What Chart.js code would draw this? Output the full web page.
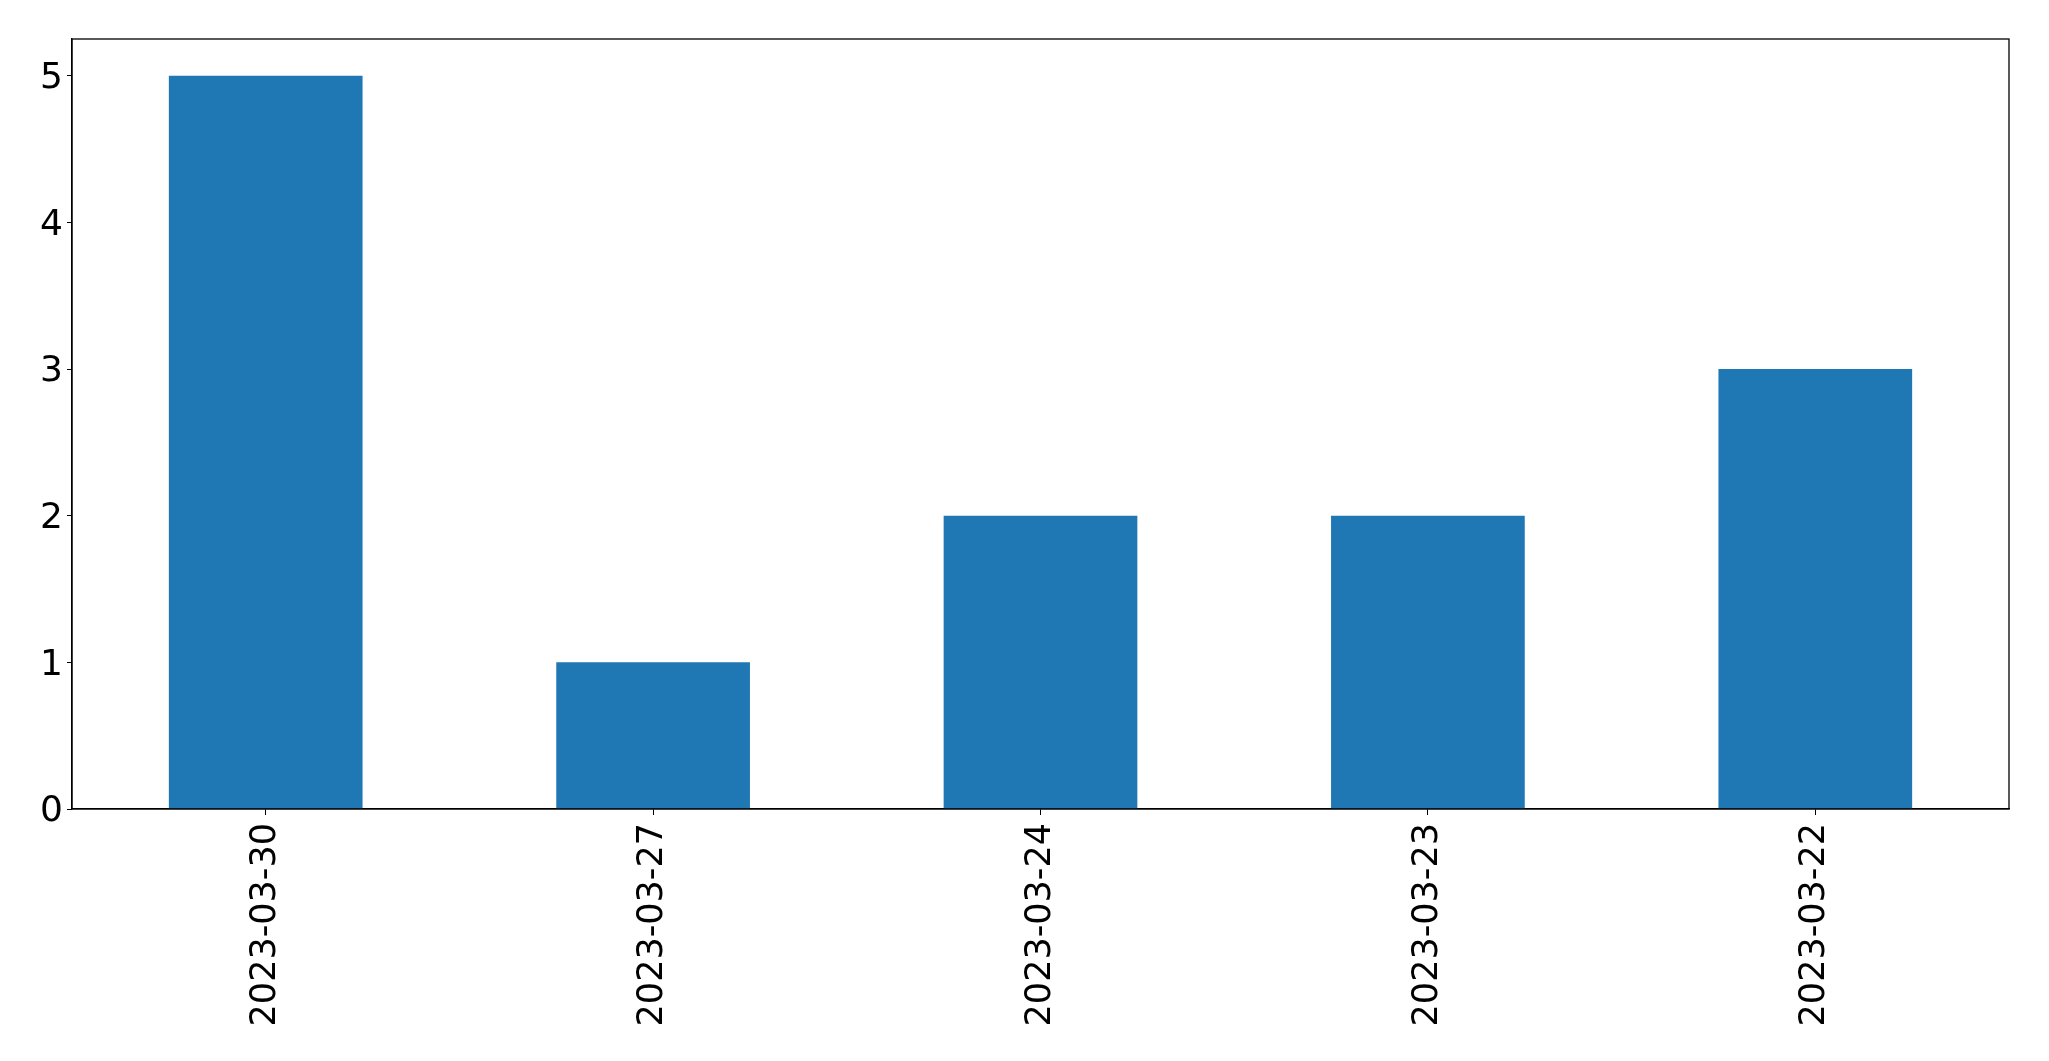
<!DOCTYPE html>
<html>
<head>
<meta charset="utf-8">
<script src="https://cdn.jsdelivr.net/npm/chart.js@4/dist/chart.umd.min.js"></script>
<style>
html,body{margin:0;padding:0;background:#fff;}
#wrap{width:2049px;height:1061px;position:relative;}
</style>
</head>
<body>
<div id="wrap"><canvas id="c" width="2049" height="1061"></canvas></div>
<script>
const categories = ["2023-03-30", "2023-03-27", "2023-03-24", "2023-03-23", "2023-03-22"];
const values = [5, 1, 2, 2, 3];
const yTicks = [0, 1, 2, 3, 4, 5];

const frame = {
  id: 'frame',
  afterDatasetsDraw(chart) {
    const a = chart.chartArea, ctx = chart.ctx;
    ctx.save();
    ctx.strokeStyle = '#000';
    ctx.lineWidth = 1.3;
    ctx.strokeRect(a.left, a.top, a.right - a.left, a.bottom - a.top);
    ctx.restore();
  }
};

new Chart(document.getElementById('c'), {
  type: 'bar',
  data: {
    labels: categories,
    datasets: [{ data: values, backgroundColor: '#1f77b4', borderWidth: 0,
      categoryPercentage: 1.0, barPercentage: 0.5 }]
  },
  options: {
    responsive: false,
    animation: false,
    devicePixelRatio: 1,
    layout: { padding: { top: 39, right: 40, left: 0, bottom: 0 } },
    plugins: { legend: { display: false }, tooltip: { enabled: false } },
    scales: {
      x: {
        offset: true,
        grid: { display: true, drawOnChartArea: false, drawTicks: true, tickLength: 6, color: '#000', offset: false },
        border: { display: true, color: '#000', width: 1.3 },
        ticks: { color: '#000', font: { family: 'DejaVu Sans', size: 35 }, minRotation: 90, maxRotation: 90, padding: 8, autoSkip: false },
        afterFit(s) { s.height = 252; }
      },
      y: {
        min: 0, max: 5.25,
        afterBuildTicks(s) { s.ticks = yTicks.map(v => ({ value: v })); },
        grid: { display: true, drawOnChartArea: false, drawTicks: true, tickLength: 5, color: '#000' },
        border: { display: true, color: '#000', width: 1.3 },
        ticks: { color: '#000', font: { family: 'DejaVu Sans', size: 36 }, padding: 4, labelOffset: 3 },
        afterFit(s) { s.width = 72; }
      }
    }
  },
  plugins: [frame]
});
</script>
</body>
</html>
